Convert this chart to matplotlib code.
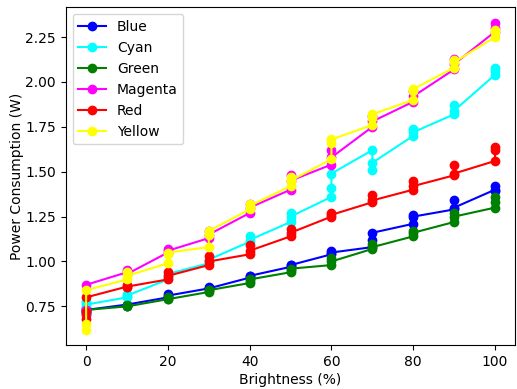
import matplotlib
matplotlib.use("Agg")
import matplotlib.pyplot as plt
import numpy as np

brightness = [0, 10, 20, 30, 40, 50, 60, 70, 80, 90, 100]

# three readings per brightness level, in measurement order
blue = [[0.72, 0.74, 0.73], [0.76, 0.75, 0.76], [0.80, 0.82, 0.81], [0.85, 0.86, 0.85],
        [0.91, 0.92, 0.92], [0.97, 0.98, 0.98], [1.04, 1.06, 1.05], [1.08, 1.12, 1.16],
        [1.21, 1.26, 1.25], [1.29, 1.34, 1.30], [1.40, 1.42, 1.39]]
cyan = [[0.77, 0.78, 0.76], [0.80, 0.82, 0.81], [0.90, 0.92, 0.93], [0.99, 1.00, 1.01],
        [1.11, 1.14, 1.12], [1.22, 1.27, 1.25], [1.36, 1.41, 1.49], [1.62, 1.51, 1.55],
        [1.70, 1.74, 1.72], [1.82, 1.87, 1.84], [2.04, 2.08, 2.06]]
green = [[0.70, 0.72, 0.73], [0.75, 0.76, 0.75], [0.79, 0.80, 0.79], [0.83, 0.84, 0.84],
         [0.88, 0.89, 0.90], [0.94, 0.95, 0.96], [0.98, 1.02, 1.00], [1.07, 1.10, 1.08],
         [1.14, 1.17, 1.16], [1.22, 1.27, 1.25], [1.30, 1.36, 1.33]]
magenta = [[0.71, 0.73, 0.87], [0.94, 0.95, 0.93], [1.05, 1.07, 1.06], [1.13, 1.17, 1.15],
           [1.27, 1.32, 1.30], [1.40, 1.48, 1.45], [1.54, 1.62, 1.58], [1.75, 1.81, 1.78],
           [1.89, 1.95, 1.92], [2.07, 2.13, 2.10], [2.28, 2.33, 2.30]]
red = [[0.68, 0.72, 0.80], [0.86, 0.87, 0.86], [0.90, 0.94, 0.92], [0.98, 1.03, 1.00],
       [1.04, 1.09, 1.06], [1.14, 1.18, 1.16], [1.25, 1.27, 1.26], [1.33, 1.37, 1.34],
       [1.40, 1.45, 1.42], [1.48, 1.54, 1.49], [1.56, 1.64, 1.62]]
yellow = [[0.62, 0.65, 0.84], [0.90, 0.94, 0.92], [0.99, 1.04, 1.05], [1.08, 1.15, 1.17],
          [1.29, 1.32, 1.31], [1.42, 1.47, 1.45], [1.57, 1.66, 1.68], [1.76, 1.80, 1.82],
          [1.90, 1.95, 1.96], [2.08, 2.12, 2.11], [2.25, 2.29, 2.28]]

series = [("Blue", blue, "blue"), ("Cyan", cyan, "cyan"), ("Green", green, "green"),
          ("Magenta", magenta, "magenta"), ("Red", red, "red"), ("Yellow", yellow, "yellow")]

fig = plt.figure(figsize=(5.17, 3.89), dpi=100)
ax = fig.add_axes([0.127, 0.113, 0.997 - 0.127, 0.981 - 0.113])

for name, readings, color in series:
    xs, ys = [], []
    for b, vals in zip(brightness, readings):
        for v in vals:
            xs.append(b)
            ys.append(v)
    ax.plot(xs, ys, marker="o", color=color, label=name)

ax.set_xlabel("Brightness (%)", labelpad=3)
ax.set_ylabel("Power Consumption (W)", labelpad=1)
ax.legend(loc="upper left")

fig.savefig("out.png", dpi=100)
